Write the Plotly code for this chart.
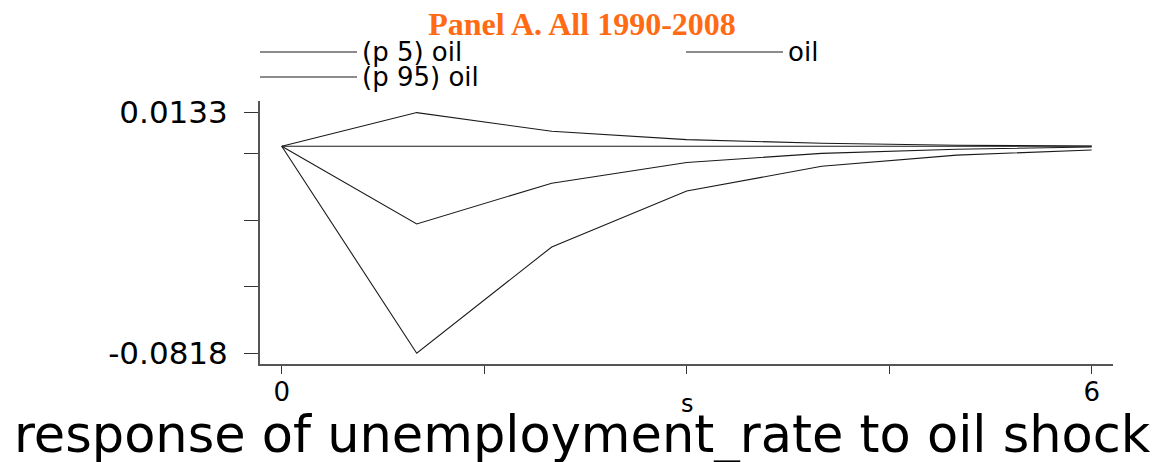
import plotly.graph_objects as go

# impulse response: step, point estimate and 5/95 percentile bands
steps = [0, 1, 2, 3, 4, 5, 6]
irf_p5 = [0.0, -0.0818, -0.0398, -0.0177, -0.0079, -0.0035, -0.0015]
irf_oil = [0.0, -0.0307, -0.0146, -0.0064, -0.0028, -0.0012, -0.0003]
irf_p95 = [0.0, 0.0133, 0.0059, 0.0026, 0.0012, 0.0004, 0.0001]
series_names = ["(p 5) oil", "oil", "(p 95) oil"]

y_tick_vals = [-0.0818, -0.05553, -0.02925, -0.00298, 0.0133]
y_tick_text = ["-0.0818", "", "", "", "0.0133"]
x_tick_vals = [0, 1.5, 3, 4.5, 6]
x_tick_text = ["0", "", "", "", "6"]

W, H = 1170, 462
ML, MR, MT, MB = 260, 57, 101, 98
SANS = "DejaVu Sans"
LINE = "#1a1a1a"


def px_x(px):
    return (px - ML) / (W - ML - MR)


def px_y(py):
    return (H - MB - py) / (H - MT - MB)


fig = go.Figure()
for name, vals in zip(series_names, [irf_p5, irf_oil, irf_p95]):
    fig.add_trace(go.Scatter(x=steps, y=vals, mode="lines", name=name,
                             line={"color": LINE, "width": 1.1}, showlegend=False))

# zero reference line
fig.add_shape(type="line", xref="x", yref="y", x0=steps[0], x1=steps[-1], y0=0, y1=0,
              line={"color": LINE, "width": 1.1})

# legend drawn by hand so the line samples are as long as in the original
legend_slots = [(260, 357, 52), (686, 783, 52), (260, 357, 77)]
for name, (x0, x1, y) in zip(series_names, legend_slots):
    fig.add_shape(type="line", xref="paper", yref="paper",
                  x0=px_x(x0), x1=px_x(x1), y0=px_y(y), y1=px_y(y),
                  line={"color": LINE, "width": 1.1})
    fig.add_annotation(text=name, xref="paper", yref="paper", x=px_x(x1 + 3), y=px_y(y),
                       xanchor="left", yanchor="middle", showarrow=False,
                       font={"family": SANS, "size": 26, "color": "black"})

fig.add_annotation(text="s", xref="paper", yref="paper",
                   x=px_x(687), y=px_y(404), xanchor="center", yanchor="middle", showarrow=False,
                   font={"family": SANS, "size": 24, "color": "black"})
fig.add_annotation(text="response of unemployment_rate to oil shock", xref="paper", yref="paper",
                   x=px_x(582), y=px_y(434), xanchor="center", yanchor="middle", showarrow=False,
                   font={"family": SANS, "size": 51, "color": "black"})

fig.update_layout(
    width=W, height=H,
    margin={"l": ML, "r": MR, "t": MT, "b": MB},
    paper_bgcolor="white", plot_bgcolor="white",
    title={"text": "<b>Panel A. All 1990-2008</b>", "xref": "container", "yref": "container",
           "x": 582 / W, "y": 1 - 24 / H, "xanchor": "center", "yanchor": "middle",
           "font": {"family": "Liberation Serif", "size": 32, "color": "#ff6a13"}},
)
fig.update_xaxes(
    range=[-0.161, 6.158], showgrid=False, zeroline=False,
    showline=True, linecolor="#555", linewidth=2,
    ticks="outside", ticklen=8, tickcolor="#333", tickwidth=1.2,
    tickvals=x_tick_vals, ticktext=x_tick_text, ticklabelstandoff=-4,
    tickfont={"family": SANS, "size": 26, "color": "black"},
)
fig.update_yaxes(
    range=[-0.08606, 0.01788], showgrid=False, zeroline=False,
    showline=True, linecolor="#555", linewidth=2,
    ticks="outside", ticklen=14, tickcolor="#333", tickwidth=1.2,
    tickvals=y_tick_vals, ticktext=y_tick_text, ticklabelstandoff=10,
    tickfont={"family": SANS, "size": 31, "color": "black"},
)

# drop the default page margin so the figure sits at the window's top-left corner
fig.write_html("out.html", config={"displayModeBar": False},
               post_script="document.body.style.margin='0';")
